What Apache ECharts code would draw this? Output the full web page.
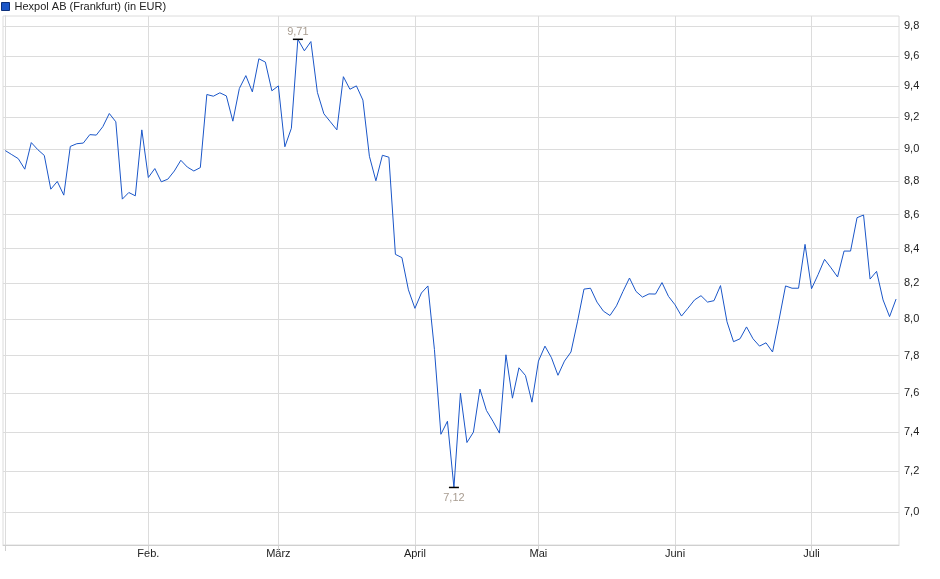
<!DOCTYPE html>
<html>
<head>
<meta charset="utf-8">
<title>Hexpol AB (Frankfurt)</title>
<script src="https://cdn.jsdelivr.net/npm/echarts@6/dist/echarts.min.js"></script>
<style>
    html, body { margin: 0; padding: 0; background: #fff; }
    #chart { width: 940px; height: 579px; }
</style>
</head>
<body>
<div id="chart"></div>
<script>
// Handelstage 2025 je Monat
var janDays = [2, 3, 6, 7, 8, 9, 10, 13, 14, 15, 16, 17, 20, 21, 22, 23, 24, 27, 28, 29, 30, 31];
var febDays = [3, 4, 5, 6, 7, 10, 11, 12, 13, 14, 17, 18, 19, 20, 21, 24, 25, 26, 27, 28];
var marDays = [3, 4, 5, 6, 7, 10, 11, 12, 13, 14, 17, 18, 19, 20, 21, 24, 25, 26, 27, 28, 31];
var aprDays = [1, 2, 3, 4, 7, 8, 9, 10, 11, 14, 15, 16, 17, 22, 24, 25, 28, 29, 30];
var mayDays = [2, 5, 6, 7, 8, 9, 12, 13, 14, 15, 16, 19, 20, 21, 22, 23, 26, 27, 28, 29, 30];
var junDays = [2, 3, 4, 5, 6, 9, 10, 11, 12, 13, 16, 17, 18, 19, 20, 23, 24, 25, 26, 27, 30];
var julDays = [1, 2, 3, 4, 7, 8, 9, 10, 11, 14, 15, 16, 17, 18];

var monthNames = ['Jan.', 'Feb.', 'März', 'April', 'Mai', 'Juni', 'Juli'];

// Schlusskurse in EUR
var prices = [
    8.99, 8.965, 8.94, 8.875, 9.04, 8.996, 8.96, 8.753, 8.80, 8.717,
    9.016, 9.033, 9.037, 9.09, 9.087, 9.14, 9.224, 9.171, 8.693, 8.733,
    8.713, 9.12,
    8.824, 8.879, 8.798, 8.814, 8.864, 8.93, 8.888, 8.864, 8.885, 9.346,
    9.335, 9.357, 9.337, 9.175, 9.385, 9.469, 9.363, 9.58, 9.558, 9.37,
    9.402, 9.014, 9.13, 9.71, 9.633, 9.695, 9.36, 9.222, 9.171, 9.12,
    9.462, 9.38, 9.402, 9.31, 8.955, 8.804, 8.961, 8.949, 8.367, 8.348,
    8.164,
    8.06, 8.146, 8.186, 7.834, 7.387, 7.454, 7.12, 7.6, 7.345, 7.398,
    7.622, 7.51, 7.454, 7.393, 7.805, 7.574, 7.735, 7.694, 7.553,
    7.771, 7.852, 7.789, 7.695, 7.771, 7.82, 7.985, 8.168, 8.173, 8.095,
    8.044, 8.02, 8.074, 8.155, 8.231, 8.155, 8.123, 8.141, 8.14, 8.205,
    8.127,
    8.08, 8.017, 8.061, 8.107, 8.131, 8.095, 8.103, 8.188, 7.985, 7.876,
    7.892, 7.957, 7.892, 7.852, 7.87, 7.82, 7.996, 8.186, 8.173, 8.173,
    8.425,
    8.17, 8.25, 8.338, 8.289, 8.237, 8.386, 8.386, 8.582, 8.598, 8.225,
    8.269, 8.107, 8.014, 8.112
];

var yTicks = [7.0, 7.2, 7.4, 7.6, 7.8, 8.0, 8.2, 8.4, 8.6, 8.8, 9.0, 9.2, 9.4, 9.6, 9.8];

// Datumsachse und Monatsanfaenge
var allMonths = [janDays, febDays, marDays, aprDays, mayDays, junDays, julDays];
var dates = [];
var monthStarts = [];
allMonths.forEach(function (days, m) {
    monthStarts.push(dates.length);
    days.forEach(function (d) {
        dates.push((d < 10 ? '0' + d : d) + '.' + (m < 9 ? '0' + (m + 1) : m + 1) + '.2025');
    });
});

// logarithmische Skala: Werte als ln darstellen
var seriesData = prices.map(function (p, i) {
    return [i, Math.log(p)];
});

var gridLines = [];
yTicks.forEach(function (t) {
    gridLines.push({ yAxis: Math.log(t) });
});
monthStarts.forEach(function (i) {
    gridLines.push({ xAxis: i });
});

function fmtDe(v, digits) {
    return v.toFixed(digits).replace('.', ',');
}

var chart = echarts.init(document.getElementById('chart'));
var option = {
    animation: false,
    textStyle: {
        fontFamily: 'Liberation Sans, Arial, sans-serif'
    },
    color: ['#1a56c8'],
    legend: {
        left: 1,
        top: 1,
        padding: 0,
        icon: 'rect',
        itemWidth: 8,
        itemHeight: 8,
        selectedMode: false,
        itemStyle: {
            borderColor: '#0b2f7a',
            borderWidth: 1
        },
        textStyle: {
            fontSize: 11,
            color: '#222'
        },
        data: ['Hexpol AB (Frankfurt) (in EUR)']
    },
    grid: {
        left: 3,
        right: 41,
        top: 16,
        bottom: 34,
        show: true,
        borderColor: '#dcdcdc',
        borderWidth: 1
    },
    xAxis: {
        type: 'value',
        min: -0.35,
        max: prices.length - 1 + 0.45,
        splitLine: { show: false },
        axisLine: {
            lineStyle: { color: '#cfcfcf' }
        },
        axisTick: {
            show: true,
            length: 6,
            customValues: monthStarts,
            lineStyle: { color: '#cfcfcf' }
        },
        axisLabel: {
            customValues: monthStarts.slice(1),
            margin: 3,
            fontSize: 11,
            color: '#222',
            formatter: function (value) {
                var m = monthStarts.indexOf(Math.round(value));
                return m >= 0 ? monthNames[m] : '';
            }
        }
    },
    yAxis: {
        type: 'value',
        position: 'right',
        min: Math.log(6.842),
        max: Math.log(9.868),
        splitLine: { show: false },
        axisLine: {
            show: true,
            lineStyle: { color: '#cfcfcf' }
        },
        axisTick: { show: false },
        axisLabel: {
            customValues: yTicks.map(function (t) { return Math.log(t); }),
            margin: 5,
            fontSize: 11,
            color: '#222',
            formatter: function (value) {
                return fmtDe(Math.exp(value), 1);
            }
        }
    },
    series: [
        {
            name: 'Hexpol AB (Frankfurt) (in EUR)',
            type: 'line',
            z: 3,
            data: seriesData,
            showSymbol: false,
            symbol: 'none',
            lineStyle: {
                width: 1,
                color: '#1a56c8'
            },
            markLine: {
                silent: true,
                z: 1,
                precision: 10,
                symbol: ['none', 'none'],
                label: { show: false },
                lineStyle: {
                    color: '#dcdcdc',
                    width: 1,
                    type: 'solid'
                },
                emphasis: { disabled: true },
                data: gridLines
            },
            markPoint: {
                silent: true,
                symbol: 'rect',
                symbolSize: [10, 1.5],
                itemStyle: { color: '#000' },
                label: {
                    fontSize: 11,
                    color: '#a89c90',
                    formatter: function (p) {
                        return fmtDe(Math.exp(p.value), 2);
                    }
                },
                data: [
                    { type: 'max', label: { position: 'top', distance: 1 } },
                    { type: 'min', label: { position: 'bottom', distance: 4 } }
                ]
            }
        }
    ]
};
chart.setOption(option);
</script>
</body>
</html>
